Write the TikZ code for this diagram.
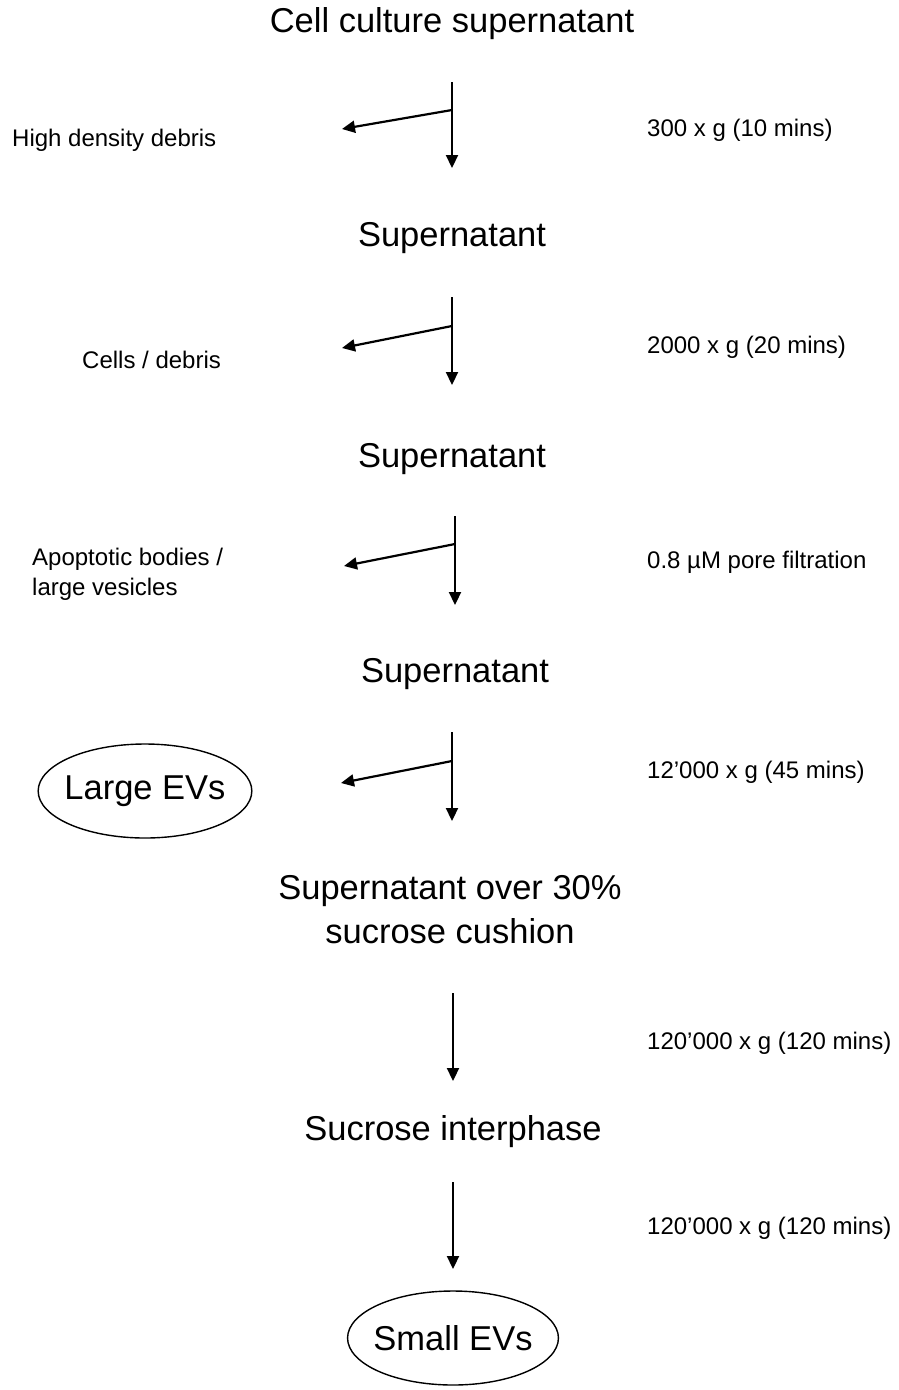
\documentclass[tikz,border=0pt]{standalone}
\usepackage{fontspec}
\setmainfont{Liberation Sans}
\usetikzlibrary{arrows.meta,shapes.geometric}

\begin{document}
\begin{tikzpicture}[x=1pt,y=-1pt,
		big/.style={font=\fontsize{34.5}{44}\selectfont,align=center},
		small/.style={font=\fontsize{24}{30}\selectfont,align=left,anchor=west,inner sep=0pt},
		flow/.style={line width=2.2pt,-{Triangle[length=13pt,width=12pt]}},
		evs/.style={draw,ellipse,line width=1.4pt,inner xsep=-5pt,inner ysep=0pt,minimum height=94pt}]
		\useasboundingbox (0,0) rectangle (899,1390);
		% steps
		\node[big] (culture) at (452,24){Cell culture supernatant};
		\node[big] (sup1) at (452,238){Supernatant};
		\node[big] (sup2) at (452,459){Supernatant};
		\node[big] (sup3) at (455,674){Supernatant};
		\node[big] (cushion) at (450,910){Supernatant over 30\%\\sucrose cushion};
		\node[big] (inter) at (453,1132){Sucrose interphase};
		\node[evs,font=\fontsize{34.5}{44}\selectfont] (small) at (453,1338){Small EVs};
		% what is spun off
		\node[small] (debris) at (12,140){High density debris};
		\node[small] (cells) at (82,360){Cells / debris};
		\node[small] (bodies) at (32,574){Apoptotic bodies /\\large vesicles};
		\node[evs,font=\fontsize{34.5}{44}\selectfont] (large) at (145,791){Large EVs};
		% conditions
		\node[small] (g1) at (647,130){300 x g (10 mins)};
		\node[small] (g2) at (647,347){2000 x g (20 mins)};
		\node[small] (g3) at (647,562){0.8 µM pore filtration};
		\node[small] (g4) at (647,772){12’000 x g (45 mins)};
		\node[small] (g5) at (647,1043){120’000 x g (120 mins)};
		\node[small] (g6) at (647,1228){120’000 x g (120 mins)};
		% arrows
		\coordinate (a1) at (452,82);   \coordinate (b1) at (452,168);
		\coordinate (a2) at (452,297);  \coordinate (b2) at (452,385);
		\coordinate (a3) at (455,516);  \coordinate (b3) at (455,605);
		\coordinate (a4) at (452,732);  \coordinate (b4) at (452,821);
		\coordinate (a5) at (453,993);  \coordinate (b5) at (453,1081);
		\coordinate (a6) at (453,1182); \coordinate (b6) at (453,1269);
		\coordinate (k1) at (452,110);  \coordinate (t1) at (342,129);
		\coordinate (k2) at (452,326);  \coordinate (t2) at (342,348);
		\coordinate (k3) at (455,544);  \coordinate (t3) at (344,566);
		\coordinate (k4) at (452,761);  \coordinate (t4) at (341,783);
		\foreach \i in {1,...,6}
			\draw[flow] (a\i) -- (b\i);
		\foreach \i in {1,...,4}
			\draw[flow] (k\i) -- (t\i);
	\end{tikzpicture}
\end{document}
